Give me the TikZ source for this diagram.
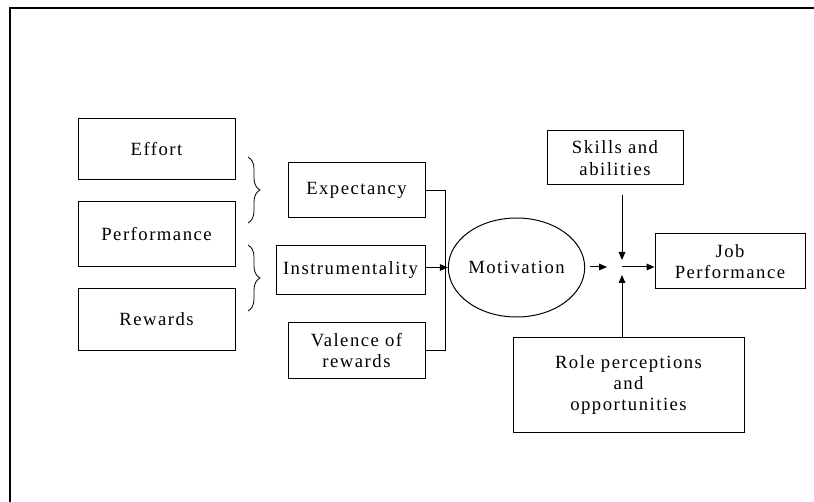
\documentclass[tikz,border=0pt]{standalone}
\usepackage{fontspec}
\setmainfont{Liberation Serif}[LetterSpace=8]
\usetikzlibrary{arrows.meta,shapes.geometric,decorations.pathreplacing}
\begin{document}
\begin{tikzpicture}[x=0.75pt,y=-0.75pt,
  every node/.style={font=\fontsize{14}{16}\selectfont, inner sep=0pt, align=center},
  box/.style={draw, line width=0.75pt, rectangle},
  arr/.style={-{Triangle[length=6pt,width=5pt]}, line width=0.75pt},
  link/.style={line width=0.75pt},
  curly/.style={decorate, decoration={brace, amplitude=9pt}, line width=0.6pt}]
\useasboundingbox (0,0) rectangle (814,502);
% frame
\draw[line width=1.5pt, line join=miter] (10,502) |- (814,8.5);

% left column
\node[box, minimum width=117.75pt, minimum height=45.75pt] (eff) at (156.5,149.5) {Effort};
\node[box, minimum width=117.75pt, minimum height=48.75pt] (perf) at (156.5,234.5) {Performance};
\node[box, minimum width=117.75pt, minimum height=45.75pt] (rew) at (156.5,319.5) {Rewards};

% braces
\coordinate (b1a) at (248,157);
\coordinate (b1b) at (248,223);
\coordinate (b2a) at (248,245);
\coordinate (b2b) at (248,311);
\draw[curly] (b1a) -- (b1b);
\draw[curly] (b2a) -- (b2b);

% middle column
\node[box, minimum width=102.75pt, minimum height=41.25pt] (exp) at (356.5,190.5) {Expectancy};
\node[box, minimum width=111.75pt, minimum height=36.75pt] (inst) at (350.5,270.5) {Instrumentality};
\node[box, minimum width=102.75pt, minimum height=41.25pt] (val) at (356.5,350.5) {Valence of\\rewards};

% motivation
\node[draw, ellipse, line width=0.75pt, minimum width=87.75pt, minimum height=74.25pt] (mot) at (516.5,267.5) {Motivation};

\draw[link] (exp.east) -- ++(20,0) |- (val.east);
\draw[arr] (inst.east |- mot.west) -- (mot.west);

% right part
\coordinate (J) at (622,267);
\node[box, minimum width=102pt, minimum height=40.5pt] (skill) at (615,158) {Skills and\\abilities};
\node[box, minimum width=112.5pt, minimum height=41.25pt] (job) at (730,261.5) {Job\\Performance};
\node[box, minimum width=173.25pt, minimum height=70.5pt] (role) at (628.5,385) {Role perceptions\\and\\opportunities};

\draw[arr, shorten <=3.75pt, shorten >=11.25pt] (mot.east |- J) -- (J);
\draw[arr, shorten <=7.5pt, shorten >=5.25pt] (skill.south -| J) -- (J);
\draw[arr, shorten >=6pt] (role.north -| J) -- (J);
\draw[arr] (J) -- (job.west |- J);
\end{tikzpicture}
\end{document}
